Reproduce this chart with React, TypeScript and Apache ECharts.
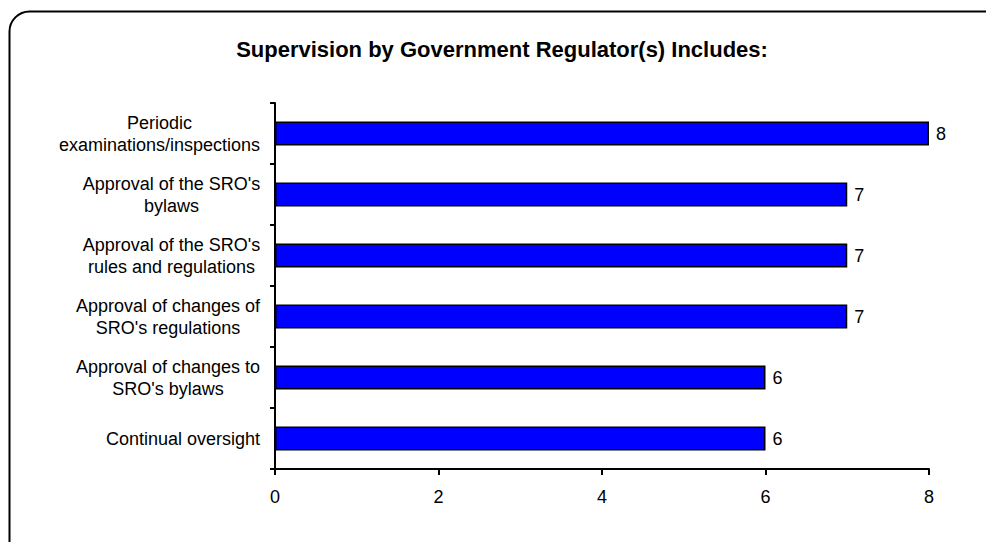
import React, { useEffect, useRef } from "react";
import * as echarts from "echarts";

const titleText = "Supervision by Government Regulator(s) Includes:";
const categories = [
  "Continual oversight",
  "Approval of changes to\nSRO's bylaws",
  "Approval of changes of\nSRO's regulations",
  "Approval of the SRO's\nrules and regulations",
  "Approval of the SRO's\nbylaws",
  "Periodic\nexaminations/inspections",
];
const values = [6, 6, 7, 7, 7, 8];
const xTicks = [0, 2, 4, 6, 8];

const FONT = "'Liberation Sans', Arial, sans-serif";
const LABEL_SIZE = 18;

function measure(text: string, size: number): number {
  const c = document.createElement("canvas");
  const ctx = c.getContext("2d")!;
  ctx.font = `${size}px ${FONT}`;
  return ctx.measureText(text).width;
}

export default function App() {
  const ref = useRef<HTMLDivElement>(null);
  useEffect(() => {
    document.body.style.margin = "0";
    const chart = echarts.init(ref.current!, null, { renderer: "svg" });
    const rich: Record<string, any> = {};
    categories.forEach((cat, i) => {
      const w = Math.max(...cat.split("\n").map((l) => measure(l, LABEL_SIZE)));
      rich["l" + i] = {
        width: Math.ceil(w) + 1,
        align: "center",
        fontSize: LABEL_SIZE,
        lineHeight: 22,
        color: "#000",
        fontFamily: FONT,
      };
    });
    chart.setOption({
      animation: false,
      backgroundColor: "#ffffff",
      textStyle: { fontFamily: FONT },
      title: {
        text: titleText,
        left: 497,
        textAlign: "center",
        top: 33,
        textStyle: { fontFamily: FONT, fontSize: 22, fontWeight: "bold", color: "#000" },
      },
      graphic: [
        {
          type: "rect",
          shape: { x: 9.5, y: 11.5, width: 1000, height: 560, r: 20 },
          style: { fill: "none", stroke: "#000", lineWidth: 2 },
          silent: true,
        },
      ],
      grid: { left: 275, right: 57, top: 103, bottom: 73, containLabel: false },
      xAxis: {
        type: "value",
        min: xTicks[0],
        max: xTicks[xTicks.length - 1],
        interval: 2,
        axisLine: { show: true, lineStyle: { color: "#000", width: 2 } },
        axisTick: { show: true, length: 6, lineStyle: { color: "#000", width: 2 } },
        axisLabel: { color: "#000", fontSize: LABEL_SIZE, margin: 19, fontFamily: FONT },
        splitLine: { show: false },
      },
      yAxis: {
        type: "category",
        data: categories,
        axisLine: { show: true, lineStyle: { color: "#000", width: 2 } },
        axisTick: { show: true, length: 5, lineStyle: { color: "#000", width: 2 } },
        axisLabel: {
          color: "#000",
          fontSize: LABEL_SIZE,
          margin: 14,
          lineHeight: 22,
          fontFamily: FONT,
          formatter: (value: string, idx: number) =>
            value
              .split("\n")
              .map((l) => `{l${idx}|${l}}`)
              .join("\n"),
          rich,
        },
      },
      series: [
        {
          type: "bar",
          data: values,
          barWidth: "39%",
          itemStyle: { color: "#0000ff", borderColor: "#000", borderWidth: 1.5 },
          label: { show: true, position: "right", color: "#000", fontSize: LABEL_SIZE, distance: 7, fontFamily: FONT },
        },
      ],
    });
    return () => chart.dispose();
  }, []);
  return <div ref={ref} style={{ position: "fixed", left: 0, top: 0, width: 986, height: 542 }} />;
}
